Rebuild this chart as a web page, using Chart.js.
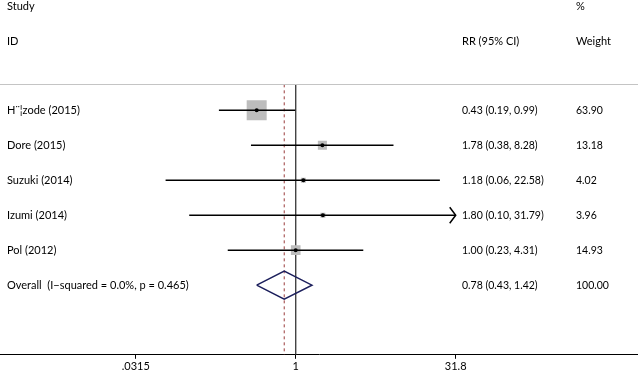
<!DOCTYPE html>
<html><head><meta charset="utf-8">
<script src="https://cdn.jsdelivr.net/npm/chart.js@4/dist/chart.umd.min.js"></script>
<style>html,body{margin:0;padding:0;background:#fff;}canvas{display:block;}</style>
</head><body>
<canvas id="c" width="638" height="374"></canvas>
<script>
// ---- data ----
const studies = ['H\u00a8\u00a6zode (2015)', 'Dore (2015)', 'Suzuki (2014)', 'Izumi (2014)', 'Pol (2012)'];
const rr      = [0.43, 1.78, 1.18, 1.80, 1.00];
const lower   = [0.19, 0.38, 0.06, 0.10, 0.23];
const upper   = [0.99, 8.28, 22.58, 31.79, 4.31];
const weights = [63.90, 13.18, 4.02, 3.96, 14.93];
const overallLabel  = 'Overall  (I\u2212squared = 0.0%, p = 0.465)';
const overallRR     = 0.78;
const overallLower  = 0.43;
const overallUpper  = 1.42;
const overallWeight = 100.00;
const tickValues = [0.0315, 1, 31.8];
const tickLabels = ['.0315', '1', '31.8'];
const headerStudy  = ['Study', 'ID'];
const headerRR     = 'RR (95% CI)';
const headerWeight = ['%', 'Weight'];

// ---- layout helpers ----
const FONT = '11px Lato';
const NUM_FONT = '10.5px Lato';
const Y_MIN = -2.15, Y_MAX = 7.99;
const HEADER_ROWS = [-1.96, -0.96];
const HEADER_LINE = 0.26;
const nRows = studies.length;
const overallRow = nRows + 1;
const xClipMax = tickValues[tickValues.length - 1];
const fmt = v => v.toFixed(2);

// CI segments (null y breaks the line)
const ciData = [];
studies.forEach((s, i) => {
  ciData.push({x: lower[i], y: i + 1});
  ciData.push({x: Math.min(upper[i], xClipMax), y: i + 1});
  ciData.push({x: lower[i], y: null});
});
const pts = rr.map((v, i) => ({x: v, y: i + 1}));
const sqRadius = weights.map(w => 2.5 * Math.sqrt(w) / Math.SQRT2);
const diamond = [
  {x: overallLower, y: overallRow},
  {x: overallRR, y: overallRow - 0.4},
  {x: overallUpper, y: overallRow},
  {x: overallRR, y: overallRow + 0.4},
  {x: overallLower, y: overallRow}
];

const forestText = {
  id: 'forestText',
  afterDatasetsDraw(chart) {
    const {ctx, scales: {x, y}, width} = chart;
    ctx.save();
    // header separator
    const yl = Math.round(y.getPixelForValue(HEADER_LINE)) + 0.5;
    ctx.strokeStyle = '#c4c4c4'; ctx.lineWidth = 1;
    ctx.beginPath(); ctx.moveTo(0, yl); ctx.lineTo(width, yl); ctx.stroke();
    // arrows for clipped CIs
    ctx.strokeStyle = '#000'; ctx.lineWidth = 1.5;
    upper.forEach((u, i) => {
      if (Math.log(u) >= Math.log(xClipMax) - 0.005) {
        const px = x.getPixelForValue(xClipMax), py = y.getPixelForValue(i + 1);
        ctx.beginPath();
        ctx.moveTo(px - 6, py - 8); ctx.lineTo(px, py); ctx.lineTo(px - 6, py + 8);
        ctx.stroke();
      }
    });
    // text
    ctx.fillStyle = '#000'; ctx.textBaseline = 'middle'; ctx.textAlign = 'left';
    const colL = 7, colRR = 462, colW = 576;
    HEADER_ROWS.forEach((r, k) => {
      const py = y.getPixelForValue(r);
      ctx.font = FONT;
      ctx.fillText(headerStudy[k], colL, py);
      ctx.fillText(headerWeight[k], colW, py);
    });
    ctx.fillText(headerRR, colRR, y.getPixelForValue(HEADER_ROWS[1]));
    studies.forEach((s, i) => {
      const py = y.getPixelForValue(i + 1);
      ctx.font = FONT;
      ctx.fillText(s, colL, py);
      ctx.font = NUM_FONT;
      ctx.fillText(fmt(rr[i]) + ' (' + fmt(lower[i]) + ', ' + fmt(upper[i]) + ')', colRR, py);
      ctx.fillText(fmt(weights[i]), colW, py);
    });
    const po = y.getPixelForValue(overallRow);
    ctx.font = FONT;
    ctx.fillText(overallLabel, colL, po);
    ctx.font = NUM_FONT;
    ctx.fillText(fmt(overallRR) + ' (' + fmt(overallLower) + ', ' + fmt(overallUpper) + ')', colRR, po);
    ctx.fillText(fmt(overallWeight), colW, po);
    ctx.restore();
  }
};

new Chart(document.getElementById('c'), {
  type: 'scatter',
  data: {
    datasets: [
      {type: 'line', data: [{x: 1, y: HEADER_LINE}, {x: 1, y: Y_MAX}], borderColor: '#444', borderWidth: 1.4, pointRadius: 0, order: 6},
      {type: 'line', data: [{x: overallRR, y: HEADER_LINE}, {x: overallRR, y: Y_MAX}], borderColor: '#9a3c3c', borderWidth: 1, borderDash: [3, 3], pointRadius: 0, order: 6},
      {type: 'scatter', data: pts, pointStyle: 'rect', pointRadius: sqRadius, backgroundColor: '#bdbdbd', borderWidth: 0, order: 5},
      {type: 'line', data: ciData, borderColor: '#000', borderWidth: 1.5, pointRadius: 0, spanGaps: false, order: 3},
      {type: 'scatter', data: pts, pointStyle: 'circle', pointRadius: 2, backgroundColor: '#000', borderWidth: 0, order: 1},
      {type: 'line', data: diamond, borderColor: '#1c1f5c', borderWidth: 1.5, pointRadius: 0, fill: false, tension: 0, order: 2}
    ]
  },
  options: {
    responsive: false,
    animation: false,
    events: [],
    layout: {padding: 0, autoPadding: false},
    plugins: {legend: {display: false}, tooltip: {enabled: false}},
    scales: {
      x: {
        type: 'logarithmic',
        position: 'bottom',
        min: 0.001672,
        max: 1637,
        afterBuildTicks: s => { s.ticks = tickValues.map(v => ({value: v})); },
        afterFit: s => { s.paddingLeft = 0; s.paddingRight = 0; },
        ticks: {
          autoSkip: false, maxRotation: 0, padding: 1, color: '#000',
          font: {family: 'Lato', size: 11},
          callback: (v, i) => tickLabels[i]
        },
        grid: {display: true, drawOnChartArea: false, drawTicks: true, tickLength: 4, color: '#000', lineWidth: 1},
        border: {display: true, color: '#000', width: 1}
      },
      y: {type: 'linear', reverse: true, min: Y_MIN, max: Y_MAX, display: false}
    }
  },
  plugins: [forestText]
});
</script>
</body></html>
